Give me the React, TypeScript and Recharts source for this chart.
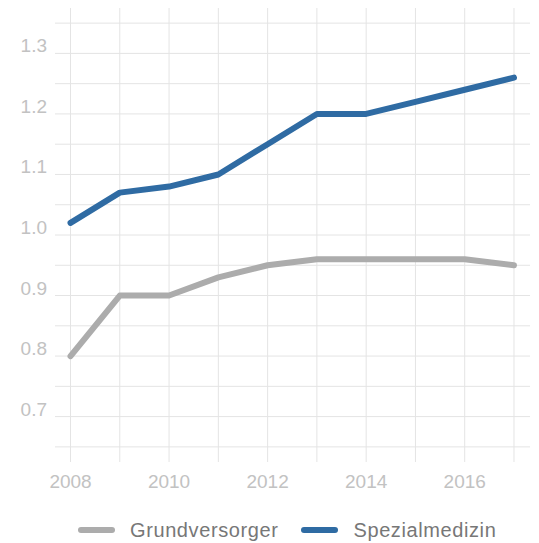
import { LineChart, Line, XAxis, YAxis, ReferenceLine, Legend } from "recharts";

const years = [2008, 2009, 2010, 2011, 2012, 2013, 2014, 2015, 2016, 2017];
const grundversorger = [0.8, 0.9, 0.9, 0.93, 0.95, 0.96, 0.96, 0.96, 0.96, 0.95];
const spezialmedizin = [1.02, 1.07, 1.08, 1.1, 1.15, 1.2, 1.2, 1.22, 1.24, 1.26];
const yTicks = [0.65, 0.7, 0.75, 0.8, 0.85, 0.9, 0.95, 1.0, 1.05, 1.1, 1.15, 1.2, 1.25, 1.3, 1.35];

const GRAY = "#acacac";
const BLUE = "#2f6ba3";
const GRID = "#e4e4e4";
const FONT = "'Liberation Sans', Arial, sans-serif";

const data = years.map((year, i) => ({
  year,
  grund: grundversorger[i],
  spezial: spezialmedizin[i],
}));

const series = [
  { key: "grund", name: "Grundversorger", color: GRAY },
  { key: "spezial", name: "Spezialmedizin", color: BLUE },
];

function XTick({ x, y, payload }: any) {
  if (payload.value % 2 !== 0) return null;
  return (
    <text x={x} y={y + 18} textAnchor="middle" fill="#c2c2c2" fontSize={19} fontFamily={FONT}>
      {payload.value}
    </text>
  );
}

function YTick({ x, y, payload }: any) {
  const v = Math.round(payload.value * 100);
  if (v % 10 !== 0) return null;
  return (
    <text x={x} y={y - 1} textAnchor="end" fill="#c2c2c2" fontSize={19} fontFamily={FONT}>
      {(v / 100).toFixed(1)}
    </text>
  );
}

function LegendContent() {
  return (
    <div
      style={{
        height: 40,
        display: "flex",
        alignItems: "center",
        paddingLeft: 78,
        paddingTop: 14,
        boxSizing: "border-box",
        fontFamily: FONT,
        fontSize: 20,
        letterSpacing: 0.6,
        color: "#777",
      }}
    >
      {series.map((s) => (
        <div key={s.key} style={{ display: "flex", alignItems: "center", marginRight: 23 }}>
          <span
            style={{
              display: "inline-block",
              width: 37,
              height: 6,
              borderRadius: 3,
              background: s.color,
              marginRight: 15,
            }}
          />
          <span>{s.name}</span>
        </div>
      ))}
    </div>
  );
}

export default function App() {
  return (
    <div style={{ position: "absolute", left: 0, top: 0, background: "#fff" }}>
      <LineChart width={539} height={543} data={data} margin={{ top: 8, right: 9, bottom: 0, left: 0 }}>
        <XAxis
          dataKey="year"
          type="number"
          domain={[2007.685, 2017.325]}
          ticks={years}
          axisLine={false}
          tickLine={false}
          height={41}
          tick={<XTick />}
          interval={0}
        />
        <YAxis
          type="number"
          domain={[0.625, 1.375]}
          ticks={yTicks}
          axisLine={false}
          tickLine={false}
          width={55}
          tick={<YTick />}
          interval={0}
        />
        {/* grid drawn as reference lines so the plot edges get no border */}
        {yTicks.map((t) => (
          <ReferenceLine key={"h" + t} y={t} stroke={GRID} strokeWidth={1} />
        ))}
        {years.map((t) => (
          <ReferenceLine key={"v" + t} x={t} stroke={GRID} strokeWidth={1} />
        ))}
        <Legend verticalAlign="bottom" content={<LegendContent />} />
        {series.map((s) => (
          <Line
            key={s.key}
            dataKey={s.key}
            name={s.name}
            stroke={s.color}
            strokeWidth={6}
            strokeLinejoin="round"
            strokeLinecap="round"
            dot={false}
            activeDot={false}
            isAnimationActive={false}
          />
        ))}
      </LineChart>
    </div>
  );
}
